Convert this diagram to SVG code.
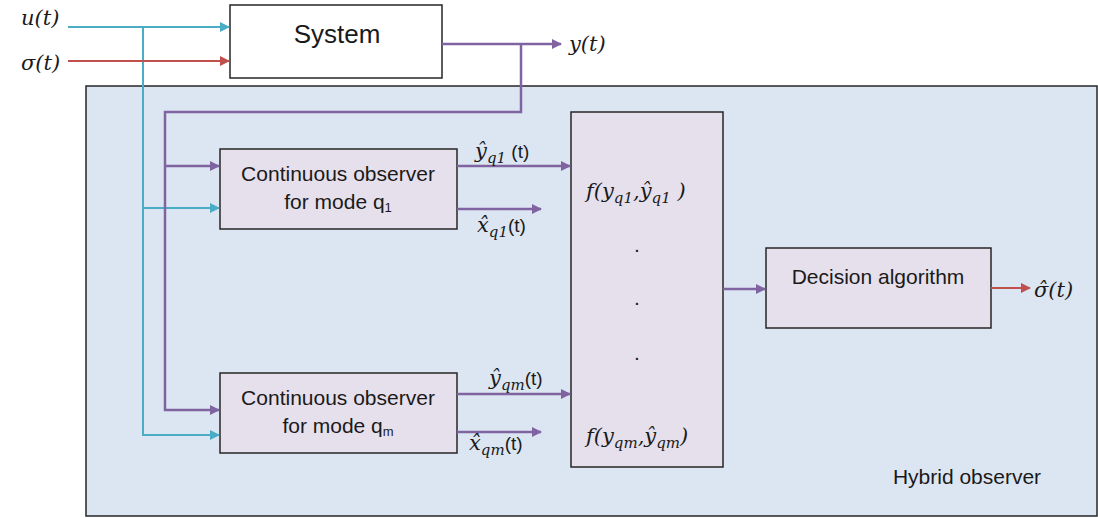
<svg xmlns="http://www.w3.org/2000/svg" width="1098" height="518" viewBox="0 0 1098 518">
<defs>
<marker id="ab" markerWidth="10" markerHeight="10" refX="9" refY="5" orient="auto" markerUnits="userSpaceOnUse"><path d="M0,0 L10,5 L0,10 z" fill="#4bacc6"/></marker>
<marker id="ar" markerWidth="10" markerHeight="10" refX="9" refY="5" orient="auto" markerUnits="userSpaceOnUse"><path d="M0,0 L10,5 L0,10 z" fill="#c0504d"/></marker>
<marker id="ap" markerWidth="10" markerHeight="10" refX="9" refY="5" orient="auto" markerUnits="userSpaceOnUse"><path d="M0,0 L10,5 L0,10 z" fill="#8064a2"/></marker>
</defs>
<style>
.box{fill:#e6e0ec;stroke:#262626;stroke-width:1.5}
.lbl{font-family:"Liberation Sans",Arial,sans-serif;font-size:21px;fill:#1a1a1a;text-anchor:middle}
.m{font-family:"DejaVu Serif","Liberation Serif",serif;font-style:italic;font-size:21px;fill:#1a1a1a}
.n{font-family:"Liberation Sans",Arial,sans-serif;font-style:normal;font-size:19px}
.b{stroke:#4bacc6;stroke-width:2;fill:none}
.r{stroke:#c0504d;stroke-width:2;fill:none}
.p{stroke:#8064a2;stroke-width:2.5;fill:none}
</style>
<rect width="1098" height="518" fill="#ffffff"/>
<g id="hybrid">
<rect x="86" y="86" width="1011" height="430" fill="#dce6f2" stroke="#262626" stroke-width="1.5"/>
<text x="967" y="484" class="lbl">Hybrid observer</text>
</g>
<g id="system">
<rect x="230" y="5" width="212" height="73" fill="#ffffff" stroke="#262626" stroke-width="1.5"/>
<text x="337" y="43" class="lbl" style="font-size:26px">System</text>
</g>
<g id="obs1">
<rect x="220" y="149" width="237" height="80" class="box"/>
<text x="338" y="181" class="lbl">Continuous observer</text>
<text x="338" y="209" class="lbl">for mode q<tspan font-size="13" dy="3">1</tspan></text>
</g>
<g id="obs2">
<rect x="220" y="373" width="237" height="80" class="box"/>
<text x="338" y="405" class="lbl">Continuous observer</text>
<text x="338" y="433" class="lbl">for mode q<tspan font-size="13" dy="3">m</tspan></text>
</g>
<g id="fbox">
<rect x="571" y="112" width="152" height="355" class="box"/>
<text x="586" y="198" class="m">f(y<tspan font-size="15" dy="5">q1</tspan><tspan dy="-5">,ŷ</tspan><tspan font-size="15" dy="5">q1</tspan><tspan dy="-5"> )</tspan></text>
<text x="637" y="252" class="lbl">.</text>
<text x="637" y="305" class="lbl">.</text>
<text x="637" y="360" class="lbl">.</text>
<text x="586" y="443" class="m">f(y<tspan font-size="15" dy="5">qm</tspan><tspan dy="-5">,ŷ</tspan><tspan font-size="15" dy="5">qm</tspan><tspan dy="-5">)</tspan></text>
</g>
<g id="decision">
<rect x="766" y="248" width="225" height="80" class="box"/>
<text x="878" y="284" class="lbl">Decision algorithm</text>
</g>
<g id="connectors">
<path d="M68,27 H229" class="b" marker-end="url(#ab)"/>
<path d="M143,27 V435 H219" class="b" marker-end="url(#ab)"/>
<path d="M143,208 H219" class="b" marker-end="url(#ab)"/>
<path d="M68,61 H229" class="r" marker-end="url(#ar)"/>
<path d="M442,44 H561" class="p" marker-end="url(#ap)"/>
<path d="M521,44 V112 H165 V410 H219" class="p" marker-end="url(#ap)"/>
<path d="M165,166 H219" class="p" marker-end="url(#ap)"/>
<path d="M457,166 H570" class="p" marker-end="url(#ap)"/>
<path d="M457,209 H541" class="p" marker-end="url(#ap)"/>
<path d="M457,394 H570" class="p" marker-end="url(#ap)"/>
<path d="M457,432 H541" class="p" marker-end="url(#ap)"/>
<path d="M723,289 H765" class="p" marker-end="url(#ap)"/>
<path d="M991,288 H1030" class="r" marker-end="url(#ar)"/>
</g>
<g id="labels">
<text x="21" y="25" class="m">u(t)</text>
<text x="21" y="70" class="m">σ(t)</text>
<text x="569" y="51" class="m">y(t)</text>
<text x="475" y="158" class="m">ŷ<tspan font-size="15" dy="5">q1</tspan><tspan class="n" dy="-5"> (t)</tspan></text>
<text x="477" y="232" class="m">x̂<tspan font-size="15" dy="5">q1</tspan><tspan class="n" dy="-5">(t)</tspan></text>
<text x="489" y="385" class="m">ŷ<tspan font-size="15" dy="5">qm</tspan><tspan class="n" dy="-5">(t)</tspan></text>
<text x="469" y="450" class="m">x̂<tspan font-size="15" dy="5">qm</tspan><tspan class="n" dy="-5">(t)</tspan></text>
<text x="1034" y="297" class="m">σ̂(t)</text>
</g>
</svg>
